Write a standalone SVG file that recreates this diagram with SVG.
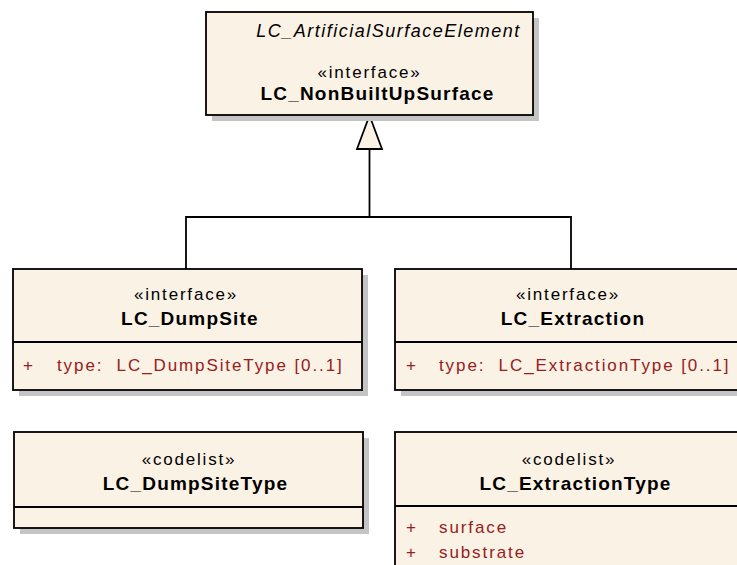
<svg xmlns="http://www.w3.org/2000/svg" width="737" height="565" viewBox="0 0 737 565">
  <style>
    .shadow { fill: #c4c4c4; }
    .box { fill: #fbf2e6; stroke: #000; stroke-width: 1.8; }
    .div { stroke: #000; stroke-width: 1.8; }
    .st { font-family: "Liberation Sans", Arial, sans-serif; font-size: 17px; letter-spacing: 1.8px; fill: #000; text-anchor: middle; }
    .nm { font-family: "Liberation Sans", Arial, sans-serif; font-size: 19px; font-weight: bold; letter-spacing: 1.2px; fill: #000; text-anchor: middle; }
    .it { font-family: "Liberation Sans", Arial, sans-serif; font-size: 18px; font-style: italic; letter-spacing: 1.5px; fill: #000; text-anchor: middle; }
    .at { font-family: "Liberation Sans", Arial, sans-serif; font-size: 17px; letter-spacing: 1.9px; fill: #962020; white-space: pre; }
    .conn { fill: none; stroke: #000; stroke-width: 1.8; }
    .gen { fill: #fbf2e6; stroke: #000; stroke-width: 1.8; stroke-linejoin: miter; }
  </style>

  <!-- generalization connectors -->
  <g id="connectors">
    <path class="conn" d="M186 269 V217 H571 V269"/>
    <path class="conn" d="M369.5 217 V149"/>
    <polygon class="gen" points="369.5,115.5 382,149 357,149"/>
  </g>

  <!-- LC_NonBuiltUpSurface -->
  <g id="LC_NonBuiltUpSurface">
    <rect class="shadow" x="212" y="18" width="327" height="103"/>
    <rect class="box" x="206" y="12" width="327" height="103"/>
    <text class="it" x="388.5" y="37">LC_ArtificialSurfaceElement</text>
    <text class="st" x="369.5" y="78">«interface»</text>
    <text class="nm" x="377.5" y="100">LC_NonBuiltUpSurface</text>
  </g>

  <!-- LC_DumpSite -->
  <g id="LC_DumpSite">
    <rect class="shadow" x="19" y="275" width="349" height="121"/>
    <rect class="box" x="13" y="269" width="349" height="121"/>
    <line class="div" x1="13" y1="342" x2="362" y2="342"/>
    <text class="st" x="186" y="300">«interface»</text>
    <text class="nm" x="190" y="325">LC_DumpSite</text>
    <text class="at" x="23" y="371">+</text>
    <text class="at" x="57" y="371">type:  LC_DumpSiteType [0..1]</text>
  </g>

  <!-- LC_Extraction -->
  <g id="LC_Extraction">
    <rect class="shadow" x="401" y="275" width="360" height="121"/>
    <rect class="box" x="395" y="269" width="360" height="121"/>
    <line class="div" x1="395" y1="342" x2="755" y2="342"/>
    <text class="st" x="568" y="300">«interface»</text>
    <text class="nm" x="573" y="325">LC_Extraction</text>
    <text class="at" x="406" y="371">+</text>
    <text class="at" x="439" y="371">type:  LC_ExtractionType [0..1]</text>
  </g>

  <!-- LC_DumpSiteType -->
  <g id="LC_DumpSiteType">
    <rect class="shadow" x="20" y="438" width="349" height="96"/>
    <rect class="box" x="14" y="432" width="349" height="96"/>
    <line class="div" x1="14" y1="507" x2="363" y2="507"/>
    <text class="st" x="189" y="465">«codelist»</text>
    <text class="nm" x="195.5" y="490">LC_DumpSiteType</text>
  </g>

  <!-- LC_ExtractionType -->
  <g id="LC_ExtractionType">
    <rect class="shadow" x="401" y="438" width="360" height="150"/>
    <rect class="box" x="395" y="432" width="360" height="150"/>
    <line class="div" x1="395" y1="506" x2="755" y2="506"/>
    <text class="st" x="569" y="465">«codelist»</text>
    <text class="nm" x="575.5" y="490">LC_ExtractionType</text>
    <text class="at" x="406" y="533">+</text>
    <text class="at" x="439" y="533">surface</text>
    <text class="at" x="406" y="558">+</text>
    <text class="at" x="439" y="558">substrate</text>
  </g>
</svg>
